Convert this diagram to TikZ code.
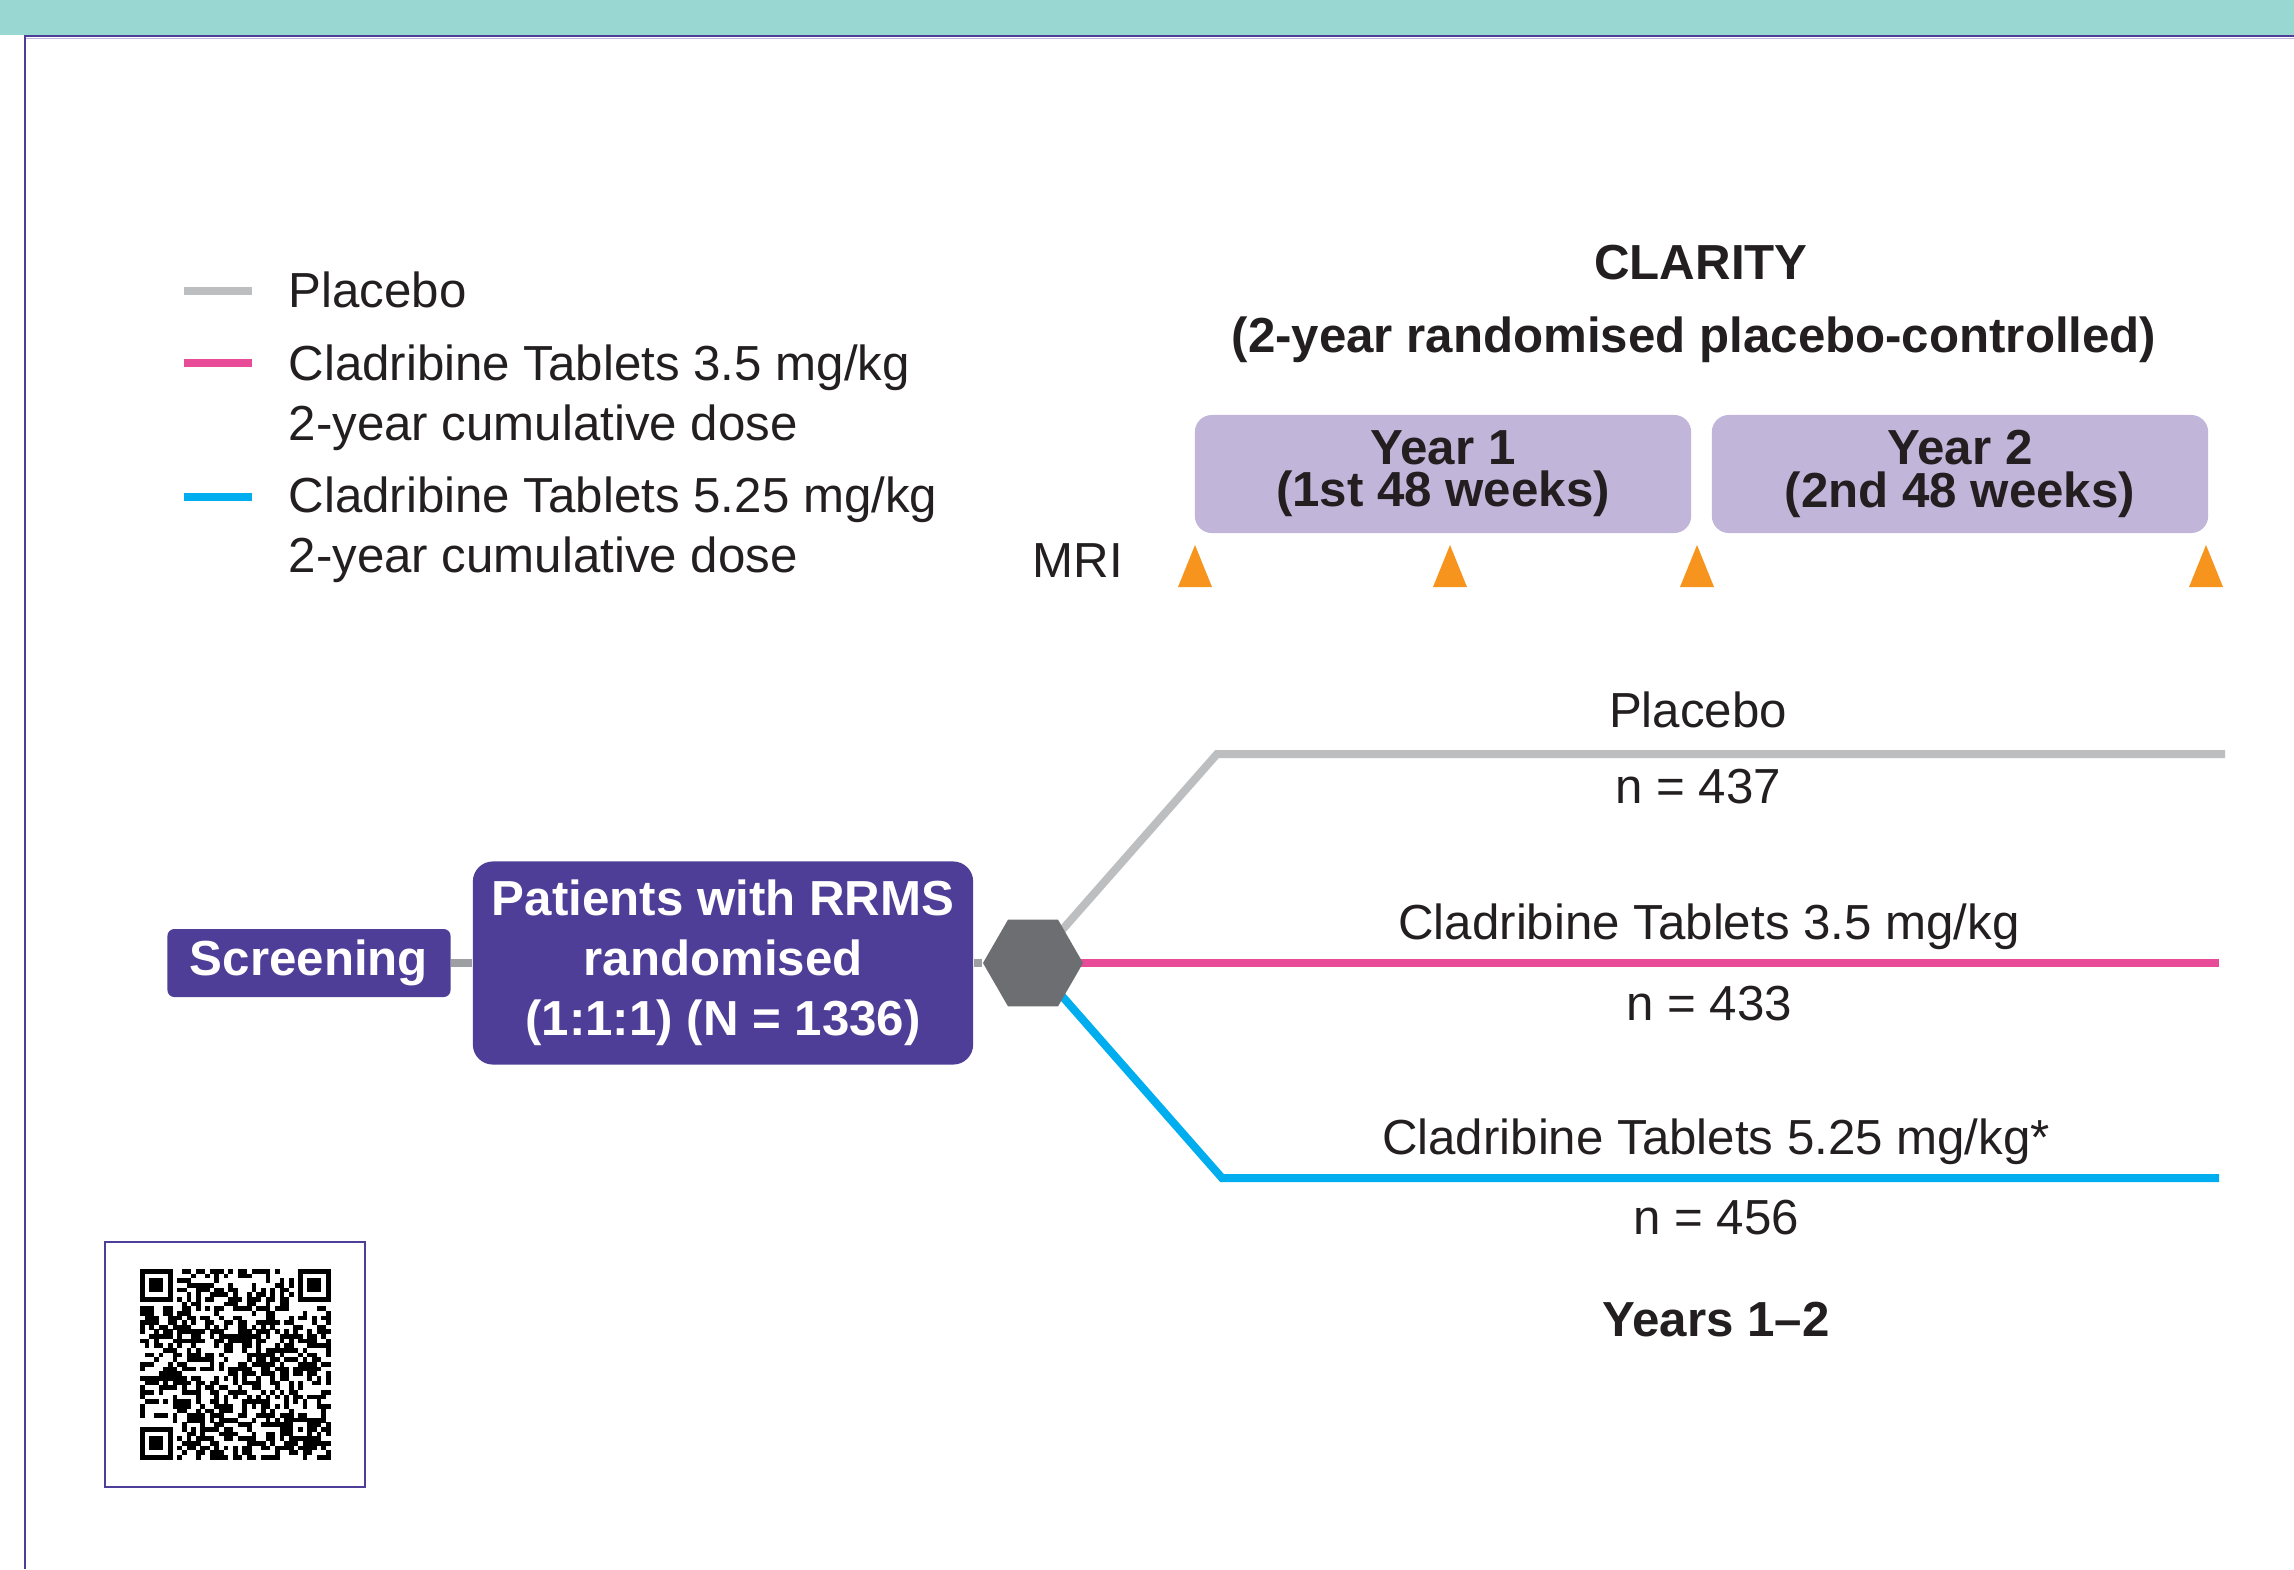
\documentclass[tikz,border=0pt]{standalone}
\usepackage{fontspec}
\setmainfont{Liberation Sans}
\usepackage{tikz}
\usetikzlibrary{shapes.geometric, backgrounds, calc}
\usepackage{xcolor}
\definecolor{color0}{RGB}{35, 31, 32}
\definecolor{color1}{RGB}{78, 62, 151}
\definecolor{color2}{RGB}{193, 181, 217}
\definecolor{color3}{RGB}{153, 215, 210}
\definecolor{color4}{RGB}{247, 148, 29}
\definecolor{color5}{RGB}{109, 110, 113}
\definecolor{color6}{RGB}{157, 159, 162}
\definecolor{color7}{RGB}{188, 190, 192}
\definecolor{color8}{RGB}{232, 76, 153}
\definecolor{color9}{RGB}{0, 174, 239}

\begin{document}
\begin{tikzpicture}[x=0.01cm, y=-0.01cm,
    every node/.style={font=\fontsize{14}{17}\selectfont, text=color0, inner sep=0pt},
    boldtext/.style={font=\fontsize{14}{17}\selectfont\bfseries},
    purplebox/.style={fill=color1, text=white, align=center, font=\fontsize{14}{17}\selectfont\bfseries},
    yearbox/.style={fill=color2, rounded corners=0.17cm, minimum width=4.96cm, minimum height=1.18cm, align=center, font=\fontsize{14}{12}\selectfont\bfseries},
    arm/.style={line width=0.08cm},
    link/.style={line width=0.08cm, draw=color6}]
        \useasboundingbox (0,0) rectangle (2294,1569);

        % frame
        \fill[color3] (0,0) rectangle (2294,35);
        \draw[color2, line width=0.01cm] (25,38.5) -- (2294,38.5);
        \draw[color1, line width=0.025cm] (25,36) -- (2294,36);
        \draw[color1, line width=0.02cm] (25,35) -- (25,1569);

        % legend
        \draw[arm, color7] (184,291) -- (252,291);
        \draw[arm, color8] (184,363) -- (252,363);
        \draw[arm, color9] (184,497) -- (252,497);
        \node (legplacebo) [anchor=base west] at (288,307) {Placebo};
        \node (leglow) [anchor=base west, align=left] at (288,440) {Cladribine Tablets 3.5 mg/kg\\2-year cumulative dose};
        \node (leghigh) [anchor=base west, align=left] at (288,572) {Cladribine Tablets 5.25 mg/kg\\2-year cumulative dose};

        % study header
        \node (clarity) [anchor=base, boldtext] at (1701,279) {CLARITY};
        \node (design) [anchor=base, boldtext] at (1694,352) {(2-year randomised placebo-controlled)};
        \node (year1) [yearbox] at (1443,474) {Year 1\\(1st 48 weeks)};
        \node (year2) [yearbox] at (1960,474) {Year 2\\(2nd 48 weeks)};
        \node (mri) [anchor=base] at (1078,577) {MRI};
        \foreach \x in {1195,1450,1697,2206}
            \fill[color4] (\x,545) -- (\x+17,587) -- (\x-17,587) -- cycle;

        % randomisation
        \node (screening) [purplebox, rounded corners=0.07cm, minimum width=2.83cm, minimum height=0.68cm] at (309,963) {Screening};
        \node (patients) [purplebox, rounded corners=0.2cm, minimum width=5cm, minimum height=2.03cm] at (723,963) {Patients with RRMS\\randomised\\(1:1:1) (N = 1336)};
        \node (hex) [regular polygon, regular polygon sides=6, minimum size=1cm, fill=color5] at (1033,963) {};
        \draw[link] (screening) -- (patients);
        \draw[link] (patients) -- (hex);

        \coordinate (pbend) at (1217,754);
        \coordinate (pend) at (2225,754);
        \coordinate (lend) at (2219,963);
        \coordinate (hbend) at (1222,1178);
        \coordinate (hend) at (2219,1178);
        \begin{scope}[on background layer]
            \fill[white] (0,0) rectangle (2294,1569);
            \draw[arm, color7] (hex.center) -- (pbend) -- (pend);
            \draw[arm, color8] (hex.center) -- (lend);
            \draw[arm, color9] (hex.center) -- (hbend) -- (hend);
        \end{scope}

        \node (armp) [anchor=base] at (1698,727) {Placebo};
        \node (np) [anchor=base] at (1698,803) {n = 437};
        \node (arml) [anchor=base] at (1709,939) {Cladribine Tablets 3.5 mg/kg};
        \node (nl) [anchor=base] at (1709,1020) {n = 433};
        \node (armh) [anchor=base] at (1716,1154) {Cladribine Tablets 5.25 mg/kg*};
        \node (nh) [anchor=base] at (1716,1234) {n = 456};
        \node (years) [anchor=base, boldtext] at (1716,1336) {Years 1--2};

        % qr code
        \node (qrbox) [draw=color1, line width=0.02cm, minimum width=2.6cm, minimum height=2.45cm] at (235,1364.5) {};
        \coordinate (qr) at (140,1269);
        \foreach \fx/\fy in {0/0, 34/0, 0/34} {
            \fill[black] ($(qr)+(\fx*4.65,\fy*4.65)$) rectangle ++(7*4.65,7*4.65);
            \fill[white] ($(qr)+(\fx*4.65+4.65,\fy*4.65+4.65)$) rectangle ++(5*4.65,5*4.65);
            \fill[black] ($(qr)+(\fx*4.65+2*4.65,\fy*4.65+2*4.65)$) rectangle ++(3*4.65,3*4.65);
        }
        \fill[black] ($(qr)+(32*4.65,32*4.65)$) rectangle ++(5*4.65,5*4.65);
        \fill[white] ($(qr)+(33*4.65,33*4.65)$) rectangle ++(3*4.65,3*4.65);
        \fill[black] ($(qr)+(34*4.65,34*4.65)$) rectangle ++(4.65,4.65);
        \pgfmathsetseed{1336}
        \foreach \i in {0,...,40} {
            \foreach \j in {0,...,40} {
                \pgfmathtruncatemacro{\skipit}{or(or(and(\i<8,\j<8),and(\i>32,\j<8)),or(and(\i<8,\j>32),and(and(\i>31,\i<37),and(\j>31,\j<37))))}
                \ifnum\skipit=0
                    \pgfmathtruncatemacro{\dark}{rnd<0.5}
                    \ifnum\dark=1
                        \fill[black] ($(qr)+(\i*4.65,\j*4.65)$) rectangle ++(4.7,4.7);
                    \fi
                \fi
            }
        }
    \end{tikzpicture}
\end{document}
